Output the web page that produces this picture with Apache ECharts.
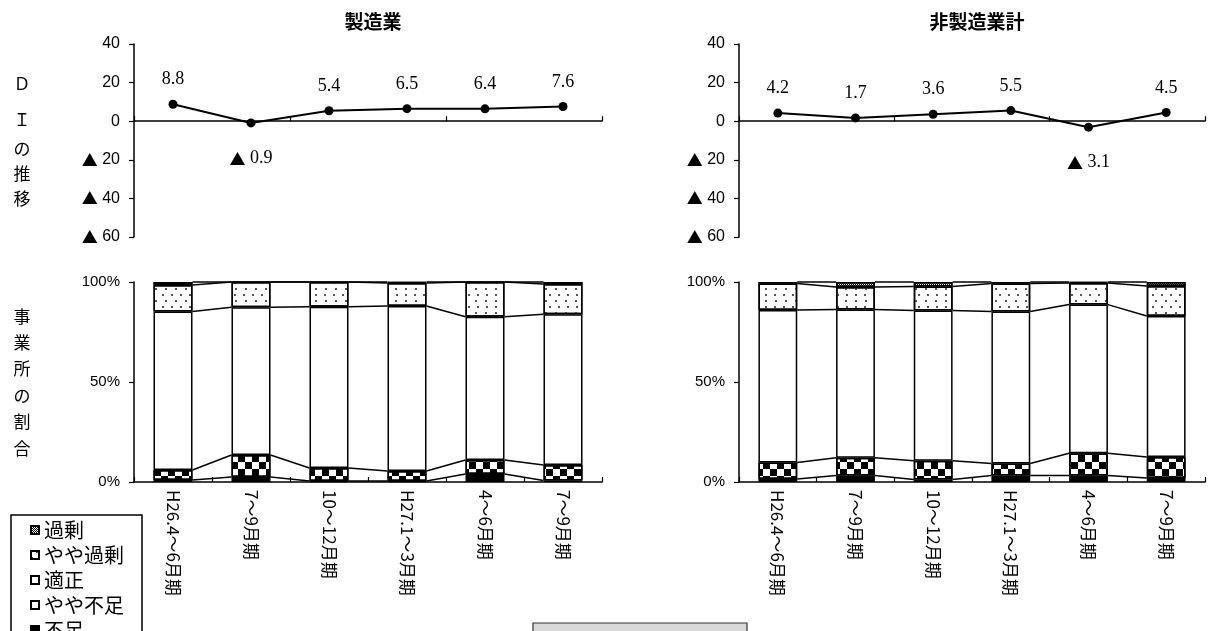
<!DOCTYPE html>
<html><head><meta charset="utf-8">
<script src="https://cdn.jsdelivr.net/npm/echarts@6/dist/echarts.min.js"></script>
<style>html,body{margin:0;padding:0;background:#fff}#c{width:1209px;height:631px}</style>
</head><body><div id="c"></div>
<script>
// ---- data ----
const categories = ['H26.4～6月期', '7～9月期', '10～12月期', 'H27.1～3月期', '4～6月期', '7～9月期'];
const titles = ['製造業', '非製造業計'];
const legendNames = ['過剰', 'やや過剰', '適正', 'やや不足', '不足'];

// DI values
const diMfg = [8.8, -0.9, 5.4, 6.5, 6.4, 7.6];
const diNon = [4.2, 1.7, 3.6, 5.5, -3.1, 4.5];

// shares (%) 製造業
const mfgFusoku = [1.0, 2.5, 0.5, 0.5, 4.0, 0.7];
const mfgYayaFusoku = [5.0, 11.0, 6.5, 5.0, 7.0, 7.8];
const mfgTekisei = [79.2, 73.9, 80.6, 82.5, 71.6, 75.4];
const mfgYayaKajo = [13.3, 12.6, 12.4, 11.5, 17.4, 15.1];
const mfgKajo = [1.5, 0, 0, 0.5, 0, 1.0];

// shares (%) 非製造業計
const nonFusoku = [1.5, 3.3, 1.2, 3.3, 3.3, 2.0];
const nonYayaFusoku = [8.3, 8.8, 9.4, 6.0, 11.1, 10.5];
const nonTekisei = [76.2, 74.1, 75.2, 75.9, 74.3, 70.5];
const nonYayaKajo = [13.2, 11.3, 11.9, 14.0, 10.8, 15.0];
const nonKajo = [0.8, 2.5, 2.3, 0.8, 0.5, 2.0];

const diTicks = [-60, -40, -20, 0, 20, 40];
const shareTicks = [0, 50, 100];

// ---- styles ----
const SANS = 'Liberation Sans';
const JP = 'Noto Sans CJK JP';
const SERIF = 'Liberation Serif';

const decals = {
  '過剰': { symbol: 'rect', symbolSize: 1, color: '#000', dashArrayX: [[1, 1], [0, 1, 1, 0]], dashArrayY: [1, 0] },
  'やや過剰': { symbol: 'rect', symbolSize: 1, color: '#555', dashArrayX: [[2, 7], [0, 4.5, 2, 2.5]], dashArrayY: [2, 4] },
  'やや不足': { symbol: 'rect', symbolSize: 1, color: '#000', dashArrayX: [[6.5, 6.5], [0, 6.5, 6.5, 0]], dashArrayY: [6.5, 0] }
};
const fills = { '過剰': '#fff', 'やや過剰': '#fff', '適正': '#fff', 'やや不足': '#fff', '不足': '#000' };

const chart = echarts.init(document.getElementById('c'), null, { renderer: 'canvas' });

const grids = [
  { left: 134, top: 44, width: 468, height: 193 },
  { left: 739, top: 44, width: 466, height: 193 },
  { left: 134, top: 282, width: 468, height: 200 },
  { left: 739, top: 282, width: 466, height: 200 }
];

const triRich = { t: { fontFamily: JP, fontSize: 16, color: '#000' } };

function xAxisCfg(gi, showLabels) {
  return {
    type: 'category', gridIndex: gi, data: categories, boundaryGap: true,
    axisLine: { show: true, lineStyle: { color: '#000', width: 1.5 } },
    axisTick: { show: true, inside: true, length: 5, lineStyle: { color: '#000', width: 1.2 } },
    axisLabel: showLabels ? {
      show: true, rotate: -90, interval: 0, margin: 8, color: '#000',
      fontFamily: JP, fontSize: 17
    } : { show: false },
    splitLine: { show: false }
  };
}

function yAxisDI(gi) {
  return {
    type: 'value', gridIndex: gi, min: diTicks[0], max: diTicks[diTicks.length - 1], interval: 20,
    axisLine: { show: true, onZero: false, lineStyle: { color: '#000', width: 1.5 } },
    axisTick: { show: true, length: 5, lineStyle: { color: '#000', width: 1.2 } },
    axisLabel: {
      color: '#000', fontFamily: SANS, fontSize: 16, margin: 14, rich: triRich,
      formatter: v => v < 0 ? '{t|▲} ' + Math.abs(v) : String(v)
    },
    splitLine: { show: false }
  };
}

function yAxisShare(gi) {
  return {
    type: 'value', gridIndex: gi, min: shareTicks[0], max: shareTicks[shareTicks.length - 1], interval: 50,
    axisLine: { show: true, lineStyle: { color: '#000', width: 1.5 } },
    axisTick: { show: true, length: 5, lineStyle: { color: '#000', width: 1.2 } },
    axisLabel: { color: '#000', fontFamily: SANS, fontSize: 15, margin: 14, formatter: '{value}%' },
    splitLine: { show: false }
  };
}

function lineSeries(gi, vals) {
  return {
    type: 'line', xAxisIndex: gi, yAxisIndex: gi,
    data: vals.map(v => ({
      value: v,
      label: { position: v < 0 ? 'bottom' : 'top', distance: v < 0 ? 22 : 11 }
    })),
    symbol: 'circle', symbolSize: 9,
    lineStyle: { color: '#000', width: 2 },
    itemStyle: { color: '#000' },
    label: {
      show: true, color: '#000', fontFamily: SERIF, fontSize: 18, rich: triRich,
      formatter: p => p.value < 0 ? '{t|▲} ' + Math.abs(p.value) : String(p.value)
    },
    z: 5
  };
}

function barSeries(gi, stackName, cols) {
  // cols in stacking order bottom -> top
  const order = ['不足', 'やや不足', '適正', 'やや過剰', '過剰'];
  return order.map((name, k) => {
    const itemStyle = { color: fills[name], borderColor: '#000', borderWidth: 1.5 };
    if (decals[name]) itemStyle.decal = decals[name];
    return {
      type: 'bar', name, stack: stackName, xAxisIndex: gi, yAxisIndex: gi,
      data: cols[k], barWidth: '50%', itemStyle,
      emphasis: { disabled: true }
    };
  });
}

function seriesLines(gi, cols) {
  const n = cols[0].length;
  const rows = [];
  for (let i = 0; i < n - 1; i++) {
    const row = [i];
    let a = 0, b = 0;
    for (const c of cols) { a += c[i]; b += c[i + 1]; row.push(a, b); }
    rows.push(row);
  }
  return {
    type: 'custom', xAxisIndex: gi, yAxisIndex: gi, silent: true, z: 4,
    encode: { x: 0, y: 1 },
    data: rows,
    renderItem: (params, api) => {
      const i = api.value(0);
      const half = api.size([1, 0])[0] * 0.25;
      const children = [];
      for (let k = 0; k < cols.length; k++) {
        const p1 = api.coord([i, api.value(1 + 2 * k)]);
        const p2 = api.coord([i + 1, api.value(2 + 2 * k)]);
        children.push({
          type: 'line',
          shape: { x1: p1[0] + half, y1: p1[1], x2: p2[0] - half, y2: p2[1] },
          style: { stroke: '#000', lineWidth: 1.5 }
        });
      }
      return { type: 'group', children };
    }
  };
}

const mfgCols = [mfgFusoku, mfgYayaFusoku, mfgTekisei, mfgYayaKajo, mfgKajo];
const nonCols = [nonFusoku, nonYayaFusoku, nonTekisei, nonYayaKajo, nonKajo];

function vText(x, y, text, lh) {
  return {
    type: 'text', x, y,
    style: { text, fill: '#000', font: '17px "' + JP + '"', align: 'center', verticalAlign: 'top', lineHeight: lh }
  };
}

const option = {
  animation: false,
  backgroundColor: '#fff',
  grid: grids,
  xAxis: [xAxisCfg(0, false), xAxisCfg(1, false), xAxisCfg(2, true), xAxisCfg(3, true)],
  yAxis: [yAxisDI(0), yAxisDI(1), yAxisShare(2), yAxisShare(3)],
  legend: {
    data: legendNames, orient: 'vertical', left: 11, top: 515, height: 200,
    icon: 'rect', itemWidth: 8, itemHeight: 8, itemGap: 5,
    padding: [5, 18, 6, 19],
    borderColor: '#000', borderWidth: 1.5, selectedMode: false,
    textStyle: { color: '#000', fontFamily: JP, fontSize: 20 }
  },
  series: [
    lineSeries(0, diMfg),
    lineSeries(1, diNon),
    ...barSeries(2, 'mfg', mfgCols),
    ...barSeries(3, 'non', nonCols),
    seriesLines(2, mfgCols),
    seriesLines(3, nonCols)
  ],
  graphic: [
    { type: 'text', x: 373, y: 12, style: { text: titles[0], fill: '#000', font: 'bold 19px "' + JP + '"', align: 'center' } },
    { type: 'text', x: 977, y: 12, style: { text: titles[1], fill: '#000', font: 'bold 19px "' + JP + '"', align: 'center' } },
    vText(22, 74, 'Ｄ', 20),
    vText(22, 110, 'Ｉ', 20),
    vText(22, 136, 'の\n推\n移', 25),
    vText(22, 303, '事\n業\n所\nの\n割\n合', 26.4),
    { type: 'rect', shape: { x: 533, y: 623, width: 214, height: 24 },
      style: { fill: '#d9d9d9', stroke: '#333', lineWidth: 1.2 } }
  ]
};
chart.setOption(option);
</script>
</body></html>
